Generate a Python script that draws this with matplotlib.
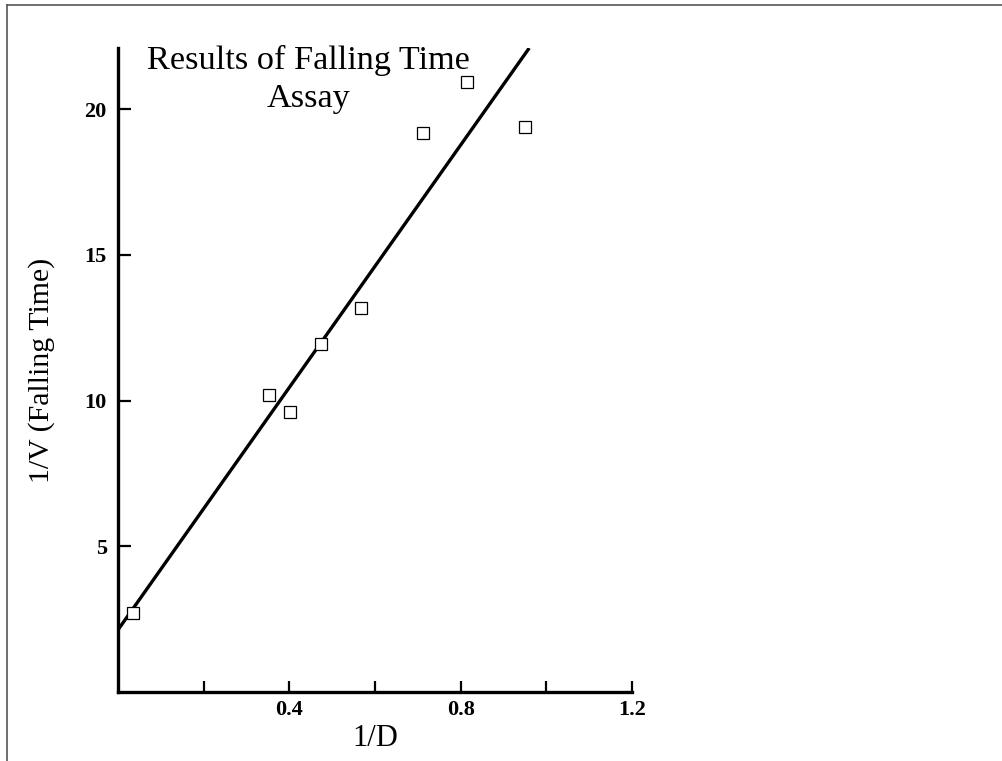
import matplotlib.pyplot as plt
from matplotlib.lines import Line2D
import numpy as np

# Points
inv_d = [0.036, 0.353, 0.402, 0.473, 0.567, 0.711, 0.816, 0.951]
inv_v = [2.72, 10.19, 9.61, 11.93, 13.19, 19.19, 20.93, 19.38]

# Fitted line as drawn
fit_slope = 20.8
fit_intercept = 2.13

x_ticks = [0.2, 0.4, 0.6, 0.8, 1.0, 1.2]
x_tick_labels = ['', '0.4', '', '0.8', '', '1.2']
y_ticks = [5, 10, 15, 20]

plt.rcParams['font.family'] = ['Liberation Serif', 'DejaVu Serif']

fig = plt.figure(figsize=(10.03, 7.61), dpi=100)
ax = fig.add_axes([0.1176, 0.0907, 0.5125, 0.8462])

ymax = 22.1
x_end = (ymax - fit_intercept) / fit_slope
xl = np.array([0.0, x_end])
ax.plot(xl, fit_intercept + fit_slope * xl, color='black', linewidth=2.4, solid_capstyle='butt')
ax.plot(inv_d, inv_v, linestyle='none', marker='s', markersize=9, markerfacecolor='white',
        markeredgecolor='black', markeredgewidth=0.9)

ax.set_xlim(0, 1.2)
ax.set_ylim(0, ymax)

for side in ['top', 'right']:
    ax.spines[side].set_visible(False)
for side in ['left', 'bottom']:
    ax.spines[side].set_linewidth(2.4)

ax.set_xticks(x_ticks)
ax.set_xticklabels(x_tick_labels)
ax.set_yticks(y_ticks)
ax.tick_params(direction='in', width=1.6, labelsize=16, pad=6)
ax.tick_params(axis='x', length=8)
ax.tick_params(axis='y', length=9, pad=8)
for lab in ax.get_xticklabels() + ax.get_yticklabels():
    lab.set_fontweight('bold')

ax.set_xlabel('1/D', fontsize=22, labelpad=3)
ax.set_ylabel('1/V (Falling Time)', fontsize=21.5, labelpad=21)

fig.text(0.308, 0.941, 'Results of Falling Time\nAssay', ha='center', va='top',
         multialignment='center', fontsize=24.7, linespacing=1.3)

# thin frame at top and left of the page
fig.add_artist(Line2D([0.0073, 1.0], [0.9928, 0.9928], color='#555555', linewidth=1.2))
fig.add_artist(Line2D([0.0073, 0.0073], [0.0, 0.9928], color='#555555', linewidth=1.2))

plt.savefig('out.png', dpi=100)
